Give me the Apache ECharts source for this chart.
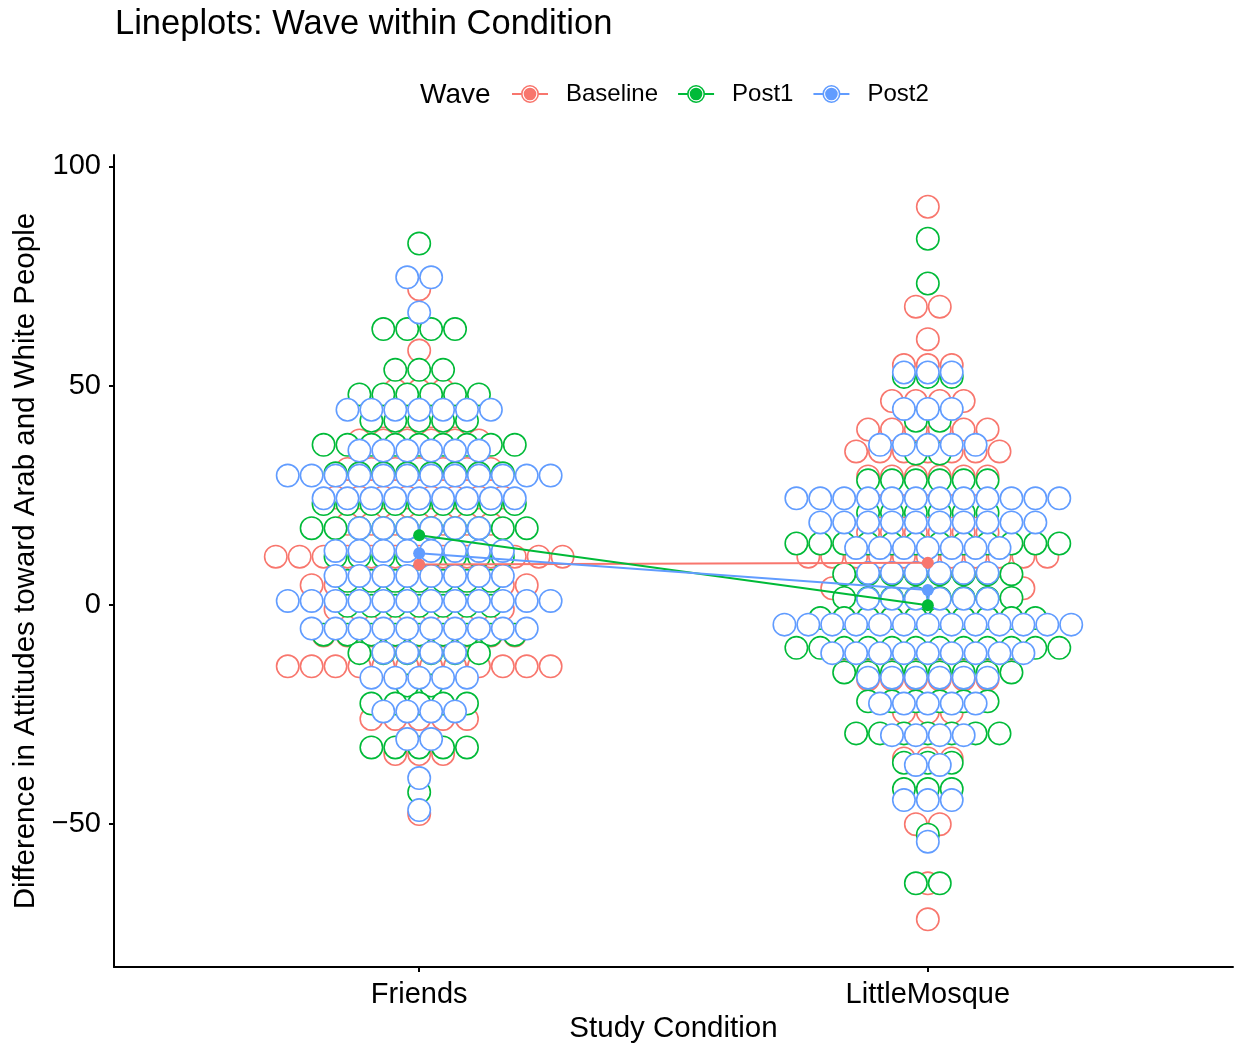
<!DOCTYPE html>
<html><head><meta charset="utf-8">
<script src="https://cdn.jsdelivr.net/npm/echarts@6/dist/echarts.min.js"></script>
<style>html,body{margin:0;padding:0;background:#fff}#chart{width:1238px;height:1049px}</style>
</head><body><div id="chart"></div>
<script>
const categories = ['Friends', 'LittleMosque'];
const waves = ['Baseline', 'Post1', 'Post2'];
const yTicks = [-50, 0, 50, 100];

// dot-plot bins: [bin value, number of dots]
const friendsBaseline = [[72,1],[58,1],[49,3],[43,4],[37.5,6],[31,7],[24.5,8],[18.5,7],[11,13],[4.5,10],[-1,8],[-7,9],[-14,12],[-26,5],[-34,3],[-47.7,1]];
const friendsPost1 = [[82.4,1],[62.9,4],[53.6,3],[48,6],[42,5],[36.5,9],[30,8],[23,9],[17.5,10],[11,8],[5.5,7],[-0.2,7],[-6.8,9],[-11,6],[-18.4,2],[-22.5,5],[-32.5,5],[-42.7,1]];
const friendsPost2 = [[74.7,2],[66.7,1],[44.5,7],[35.2,6],[29.5,12],[24.3,9],[17.5,6],[12.3,8],[6.6,8],[0.9,12],[-5.4,10],[-10.9,4],[-16.6,5],[-24.3,4],[-30.6,2],[-39.5,1],[-46.8,1]];
const lmBaseline = [[90.8,1],[68,2],[60.6,1],[54.7,3],[46.5,4],[40,6],[35,7],[29.3,6],[22.5,5],[16.5,6],[11,11],[3.8,9],[-3,8],[-10,8],[-17,6],[-24.5,3],[-35,3],[-50,2],[-63.5,1],[-71.7,1]];
const lmPost1 = [[83.5,1],[73.3,1],[52,3],[42,2],[34.5,2],[28.4,6],[21,6],[14,12],[7,8],[1.6,8],[-3,10],[-9.8,12],[-15.4,8],[-22,6],[-29.3,7],[-36,3],[-42,3],[-52.4,1],[-63.5,2]];
const lmPost2 = [[53,3],[44.7,3],[36.5,5],[24.3,12],[18.8,10],[13,7],[7.3,6],[1.4,6],[-4.5,13],[-11,9],[-16.6,6],[-22.5,5],[-29.7,4],[-36.5,2],[-44.5,3],[-54,1]];

// wave means per condition (Friends, LittleMosque)
const meansBaseline = [9.2, 9.6];
const meansPost1 = [15.9, -0.1];
const meansPost2 = [11.8, 3.4];

const colors = ['#F8766D', '#00BA38', '#619CFF'];
const DOT_DIAM = 5.45; // dot diameter in y-axis units
const FONT = '"Liberation Sans", Arial, Helvetica, sans-serif';
const ICON = 'path://M0,11L9.5,11L9.5,13L0,13Z M26.5,11L36,11L36,13L26.5,13Z M18,3A9,9,0,1,1,17.99,3Z M18,4.6A7.4,7.4,0,1,0,18.01,4.6Z M18,5.7A6.3,6.3,0,1,1,17.99,5.7Z';

const binsByWave = [
  [friendsBaseline, lmBaseline],
  [friendsPost1, lmPost1],
  [friendsPost2, lmPost2]
];
const meansByWave = [meansBaseline, meansPost1, meansPost2];

function dotSeries(w) {
  const data = [];
  binsByWave[w].forEach((bins, ci) => bins.forEach(([v, n]) => data.push([ci + 1, v, n])));
  const color = colors[w];
  return {
    type: 'custom', name: waves[w], data: data,
    encode: { x: 0, y: 1 },
    itemStyle: { color: color },
    silent: true,
    renderItem: function (params, api) {
      const x = api.value(0), v = api.value(1), n = api.value(2);
      const c = api.coord([x, v]);
      const step = api.size([0, DOT_DIAM])[1];
      const r = step / 2 - 0.75;
      const children = [];
      for (let i = 0; i < n; i++) {
        children.push({
          type: 'circle',
          shape: { cx: c[0] + (i - (n - 1) / 2) * step, cy: c[1], r: r },
          style: { fill: '#fff', stroke: color, lineWidth: 1.6 }
        });
      }
      return { type: 'group', children: children };
    }
  };
}

function meanSeries(w) {
  return {
    type: 'line', name: waves[w], z: 10,
    data: meansByWave[w].map((m, ci) => [ci + 1, m]),
    symbol: 'circle', symbolSize: 12, showSymbol: true,
    itemStyle: { color: colors[w] },
    lineStyle: { color: colors[w], width: 2 },
    emphasis: { disabled: true }, silent: true
  };
}

const chart = echarts.init(document.getElementById('chart'), null, { renderer: 'canvas' });
chart.setOption({
  animation: false,
  backgroundColor: '#fff',
  color: colors,
  textStyle: { fontFamily: FONT },
  title: [
    { text: 'Lineplots: Wave within Condition', left: 115, top: 7, padding: 0,
      textStyle: { fontFamily: FONT, fontSize: 34.5, fontWeight: 'normal', color: '#000' } },
    { text: 'Wave', left: 420, top: 81, padding: 0,
      textStyle: { fontFamily: FONT, fontSize: 28, fontWeight: 'normal', color: '#000' } }
  ],
  legend: {
    left: 512, top: 82, padding: 0,
    itemWidth: 36, itemHeight: 18, itemGap: 20,
    data: waves.map(n => ({ name: n, icon: ICON })),
    textStyle: { fontFamily: FONT, fontSize: 24, color: '#000', padding: [0, 0, 0, 13] },
    selectedMode: false
  },
  grid: { left: 114, right: 5, top: 155, bottom: 77, containLabel: false },
  xAxis: {
    type: 'value', min: 0.4, max: 2.6,
    name: 'Study Condition', nameLocation: 'middle', nameGap: 46,
    nameTextStyle: { fontFamily: FONT, fontSize: 29.5, color: '#000' },
    axisLine: { show: true, onZero: false, lineStyle: { color: '#000', width: 2 } },
    axisTick: { show: true, length: 5, lineStyle: { color: '#000', width: 2 }, customValues: [1, 2] },
    axisLabel: { margin: 13, fontFamily: FONT, fontSize: 29, color: '#000', customValues: [1, 2],
      formatter: v => categories[Math.round(v) - 1] || '' },
    splitLine: { show: false }
  },
  yAxis: {
    type: 'value', min: -82.6, max: 102.6,
    name: 'Difference in Attitudes toward Arab and White People', nameLocation: 'middle', nameGap: 72,
    nameTextStyle: { fontFamily: FONT, fontSize: 29.5, color: '#000' },
    axisLine: { show: true, onZero: false, lineStyle: { color: '#000', width: 2 } },
    axisTick: { show: true, length: 5, lineStyle: { color: '#000', width: 2 }, customValues: yTicks },
    axisLabel: { margin: 13, fontFamily: FONT, fontSize: 29, color: '#000', customValues: yTicks,
      formatter: v => String(v).replace('-', '\u2212') },
    splitLine: { show: false }
  },
  series: [dotSeries(0), dotSeries(1), dotSeries(2), meanSeries(0), meanSeries(1), meanSeries(2)]
});
</script></body></html>
